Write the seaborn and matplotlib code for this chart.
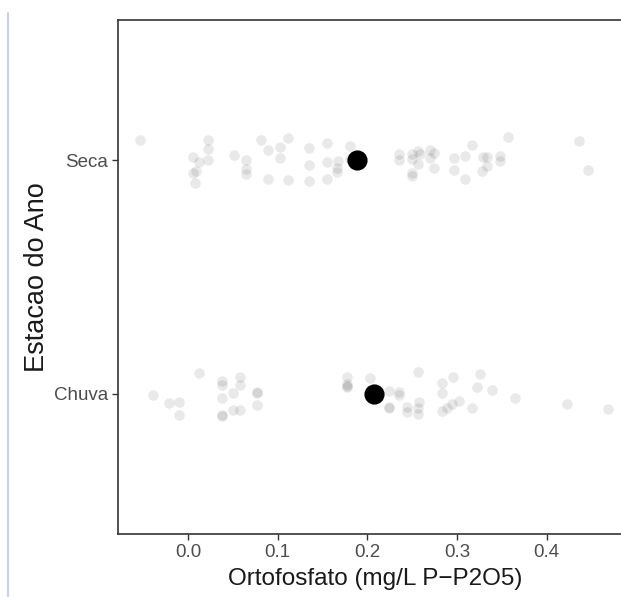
import numpy as np
import pandas as pd
import matplotlib
matplotlib.use("Agg")
import matplotlib.pyplot as plt
from matplotlib.lines import Line2D
import seaborn as sns

# ---- data ----
categories = ["Seca", "Chuva"]

seca_values = [
    -0.054, 0.006, 0.006, 0.009, 0.008, 0.012, 0.022, 0.022, 0.022,
    0.065, 0.065, 0.065, 0.051, 0.081, 0.089, 0.089, 0.103, 0.103,
    0.111, 0.111, 0.135, 0.135, 0.135, 0.155, 0.155, 0.155, 0.167,
    0.166, 0.166, 0.181, 0.181, 0.235, 0.235, 0.250, 0.250, 0.250,
    0.250, 0.256, 0.256, 0.270, 0.270, 0.274, 0.274, 0.259, 0.297,
    0.297, 0.309, 0.309, 0.317, 0.328, 0.329, 0.333, 0.333, 0.348,
    0.348, 0.357, 0.436, 0.446,
]

chuva_values = [
    -0.039, -0.021, -0.010, -0.010, 0.012, 0.038, 0.038, 0.038, 0.038,
    0.038, 0.050, 0.050, 0.058, 0.058, 0.058, 0.077, 0.077, 0.077,
    0.177, 0.177, 0.177, 0.177, 0.203, 0.206, 0.224, 0.224, 0.224,
    0.235, 0.235, 0.244, 0.244, 0.258, 0.256, 0.256, 0.256, 0.283,
    0.283, 0.283, 0.289, 0.294, 0.295, 0.302, 0.326, 0.322, 0.317,
    0.339, 0.365, 0.423, 0.468,
]

mean_values = [0.188, 0.207]  # large black dots (Seca, Chuva)

x_ticks = [0.0, 0.1, 0.2, 0.3, 0.4]
x_tick_labels = ["0.0", "0.1", "0.2", "0.3", "0.4"]

x_title = "Ortofosfato (mg/L P\u2212P2O5)"
y_title = "Estacao do Ano"

df = pd.DataFrame({
    "valor": seca_values + chuva_values,
    "estacao": ["Seca"] * len(seca_values) + ["Chuva"] * len(chuva_values),
})
df_mean = pd.DataFrame({"valor": mean_values, "estacao": categories})

# ---- figure ----
sns.set_style("white")
plt.rcParams["font.family"] = ["Liberation Sans", "DejaVu Sans"]

W, H = 621, 597
fig = plt.figure(figsize=(W / 100, H / 100), dpi=100)
# panel continues a little past the right edge of the picture (cropped)
left_px, right_px, top_px, bottom_px = 118, 632, 20, 534
ax = fig.add_axes([left_px / W, 1 - bottom_px / H,
                   (right_px - left_px) / W, (bottom_px - top_px) / H])

np.random.seed(7)
sns.stripplot(data=df, x="valor", y="estacao", order=categories,
              jitter=0.1, color="black", alpha=0.085, size=7.6,
              linewidth=0, ax=ax, zorder=2)
sns.pointplot(data=df_mean, x="valor", y="estacao", order=categories,
              color="black", linestyle="none", markers="o",
              markersize=12.5, errorbar=None, ax=ax, zorder=3)

ax.set_xlim(-0.0781, 0.4950)
ax.set_ylim(1.6, -0.6)
ax.set_xticks(x_ticks)
ax.set_xticklabels(x_tick_labels)

for side in ["left", "top", "bottom"]:
    ax.spines[side].set_visible(True)
    ax.spines[side].set_color("#333333")
    ax.spines[side].set_linewidth(1.2)
ax.spines["right"].set_visible(False)

ax.tick_params(axis="both", which="major", direction="out", length=4,
               width=1.0, color="#333333", labelcolor="#4D4D4D",
               labelsize=13.5, pad=3, bottom=True, left=True)

ax.set_xlabel(x_title, fontsize=17.5, color="#1A1A1A", labelpad=5)
ax.set_ylabel(y_title, fontsize=19.5, color="#1A1A1A", labelpad=3)
ax.grid(False)
ax.set_facecolor("white")

# thin lavender line at the far left (screenshot edge)
fig.add_artist(Line2D([7.5 / W, 7.5 / W], [0, 1 - 13 / H],
                      transform=fig.transFigure, color="#C9CFE8", lw=1.5))

fig.savefig("out.png", dpi=100, facecolor="white")
